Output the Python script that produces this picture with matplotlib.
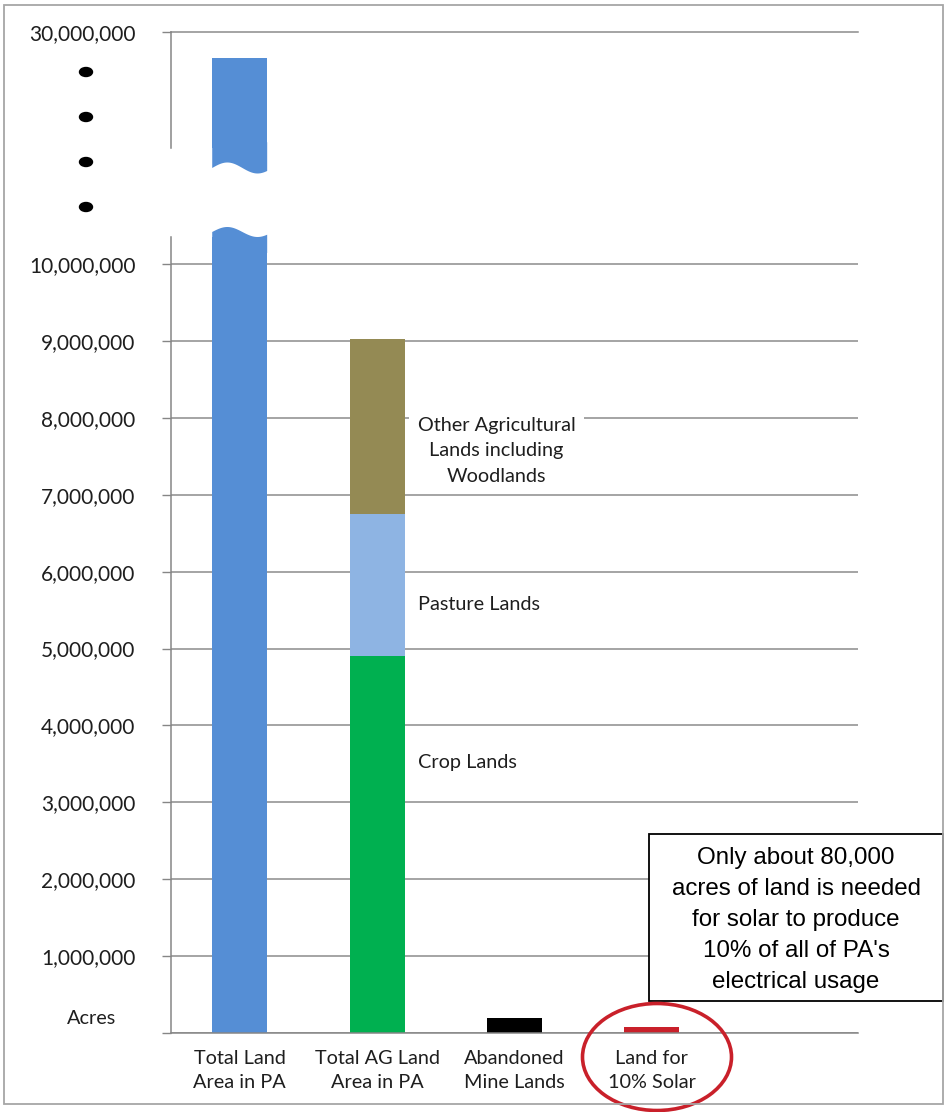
import numpy as np
import matplotlib
matplotlib.use('Agg')
from matplotlib import pyplot as plt
from matplotlib import patches, transforms

# data (acres)
categories = ['Total Land\nArea in PA', 'Total AG Land\nArea in PA', 'Abandoned\nMine Lands', 'Land for\n10% Solar', '']
total_land = 28700000
crop_lands = 4900000
pasture_lands = 1850000
other_ag_lands = 2280000
mine_lands = 200000
solar_lands = 80000
lower_ticks = [0, 1000000, 2000000, 3000000, 4000000, 5000000, 6000000, 7000000, 8000000, 9000000, 10000000]
upper_ticks = [30000000]

BLUE = '#558ed5'
GREEN = '#00b050'
LIGHTBLUE = '#8eb4e3'
OLIVE = '#948a54'
RED = '#c9202a'
GRID = '#8c8c8c'
AXIS = '#868686'
TXT = '#1e1e1e'
CAL = 'Lato'
YSIZE = 15
TSIZE = 14.3

W, H = 950, 1112
fig = plt.figure(figsize=(W / 100, H / 100), dpi=100)


def px(x, y):
    # pixel position (from top-left) -> inches for dpi_scale_trans
    return x / 100, (H - y) / 100


def fr(x0, y_top, x1, y_bot):
    return [x0 / W, (H - y_bot) / H, (x1 - x0) / W, (y_bot - y_top) / H]


x = np.arange(len(categories))
bw = 0.4

# lower axes
ax = fig.add_axes(fr(171, 237, 858, 1033))
ax.bar(x[0], total_land, bw, color=BLUE, zorder=2)
ax.bar(x[1], crop_lands, bw, color=GREEN, zorder=2)
ax.bar(x[1], pasture_lands, bw, bottom=crop_lands, color=LIGHTBLUE, zorder=2)
ax.bar(x[1], other_ag_lands, bw, bottom=crop_lands + pasture_lands, color=OLIVE, zorder=2)
ax.bar(x[2], mine_lands, bw, color='black', zorder=2)
ax.bar(x[3], solar_lands, bw, color=RED, zorder=2)
ax.set_xlim(-0.5, len(categories) - 0.5)
ax.set_ylim(0, 10000000 * (1033 - 237) / (1033 - 264))
ax.set_yticks(lower_ticks)
ax.set_yticklabels([''] + [f'{v:,}' for v in lower_ticks[1:]])
ax.set_xticks(x)
ax.set_xticklabels(categories)
ax.set_axisbelow(True)
ax.yaxis.grid(True, color=GRID, lw=1.1)
for s in ['top', 'right']:
    ax.spines[s].set_visible(False)
for s in ['left', 'bottom']:
    ax.spines[s].set_color(AXIS)
    ax.spines[s].set_linewidth(1.1)
ax.tick_params(axis='y', length=6.5, width=1, color=AXIS, pad=19, labelsize=YSIZE, labelcolor=TXT)
ax.tick_params(axis='x', length=0, pad=12, labelsize=TSIZE, labelcolor=TXT)
for lab in ax.get_xticklabels() + ax.get_yticklabels():
    lab.set_family(CAL)
for lab in ax.get_xticklabels():
    lab.set_linespacing(1.55)

# wavy top of the broken bar in the lower axes
t = np.linspace(0, 1, 60)
wave = 5 * np.sin(2 * np.pi * t / 1.1)
bx = x[0] - bw / 2 + bw * t
tr_low = transforms.blended_transform_factory(ax.transData, ax.transAxes)
ytop = (1033 - (232 - wave)) / (1033 - 237)
poly_low = np.column_stack([np.r_[bx, bx[::-1]], np.r_[ytop, np.full_like(ytop, 0.98)]])
ax.add_patch(patches.Polygon(poly_low, closed=True, color=BLUE, lw=0, transform=tr_low, clip_on=False, zorder=2))

# annotations on the stacked bar
ax.text(1.87, 7570000, 'Other Agricultural\nLands including\nWoodlands', ha='center', va='center',
        family=CAL, fontsize=TSIZE, color=TXT, linespacing=1.62, zorder=3,
        bbox=dict(boxstyle='square,pad=0.45', fc='white', ec='none'))
ax.text(1.30, 5570000, 'Pasture Lands', ha='left', va='center', family=CAL, fontsize=TSIZE, color=TXT)
ax.text(1.30, 3520000, 'Crop Lands', ha='left', va='center', family=CAL, fontsize=TSIZE, color=TXT)

# upper axes (broken part)
ax2 = fig.add_axes(fr(171, 32, 858, 148))
ax2.bar(x[0], total_land, bw, color=BLUE, zorder=2)
ax2.set_xlim(-0.5, len(categories) - 0.5)
ax2.set_ylim(24100000, 30000000)
ax2.set_yticks(upper_ticks)
ax2.set_yticklabels([f'{v:,}' for v in upper_ticks])
ax2.set_xticks([])
ax2.yaxis.grid(True, color=GRID, lw=1.1)
for g in ax2.get_ygridlines():
    g.set_clip_on(False)
for s in ['top', 'right', 'bottom']:
    ax2.spines[s].set_visible(False)
ax2.spines['left'].set_color(AXIS)
ax2.spines['left'].set_linewidth(1.1)
ax2.tick_params(axis='y', length=6.5, width=1, color=AXIS, pad=19, labelsize=YSIZE, labelcolor=TXT)
for lab in ax2.get_yticklabels():
    lab.set_family(CAL)

tr_up = transforms.blended_transform_factory(ax2.transData, ax2.transAxes)
ybot = (148 - (168 - 1.1 * wave)) / (148 - 32)
poly_up = np.column_stack([np.r_[bx, bx[::-1]], np.r_[ybot, np.full_like(ybot, 0.05)]])
ax2.add_patch(patches.Polygon(poly_up, closed=True, color=BLUE, lw=0, transform=tr_up, clip_on=False, zorder=2))

# break dots
for yy in [72, 117, 162, 207]:
    fig.add_artist(patches.Ellipse(px(86, yy), 0.13, 0.09, color='black', transform=fig.dpi_scale_trans))

fig.text(*px(92, 1019), 'Acres', transform=fig.dpi_scale_trans, ha='center', va='center',
         family=CAL, fontsize=TSIZE, color=TXT)

# note box
bx0, by0 = px(649, 1001)
fig.add_artist(patches.Rectangle((bx0, by0), (943 - 649) / 100, (1001 - 834) / 100, fc='white', ec='black',
                                 lw=1.3, transform=fig.dpi_scale_trans, zorder=3))
fig.text(*px(796, 920), "Only about 80,000\nacres of land is needed\nfor solar to produce\n10% of all of PA's\nelectrical usage",
         transform=fig.dpi_scale_trans, ha='center', va='center', family='Liberation Sans', fontsize=17.4,
         color='black', linespacing=1.54, zorder=4)

# red circle around the solar category
fig.add_artist(patches.Ellipse(px(657, 1057), 1.49, 1.07, fill=False, ec=RED, lw=2.6,
                               transform=fig.dpi_scale_trans, zorder=5))

# outer frame
fx0, fy0 = px(4, 1104)
fig.add_artist(patches.Rectangle((fx0, fy0), (943 - 4) / 100, (1104 - 5) / 100, fill=False, ec='#a6a6a6',
                                 lw=1.3, transform=fig.dpi_scale_trans, zorder=6))

fig.savefig('out.png', dpi=100)
